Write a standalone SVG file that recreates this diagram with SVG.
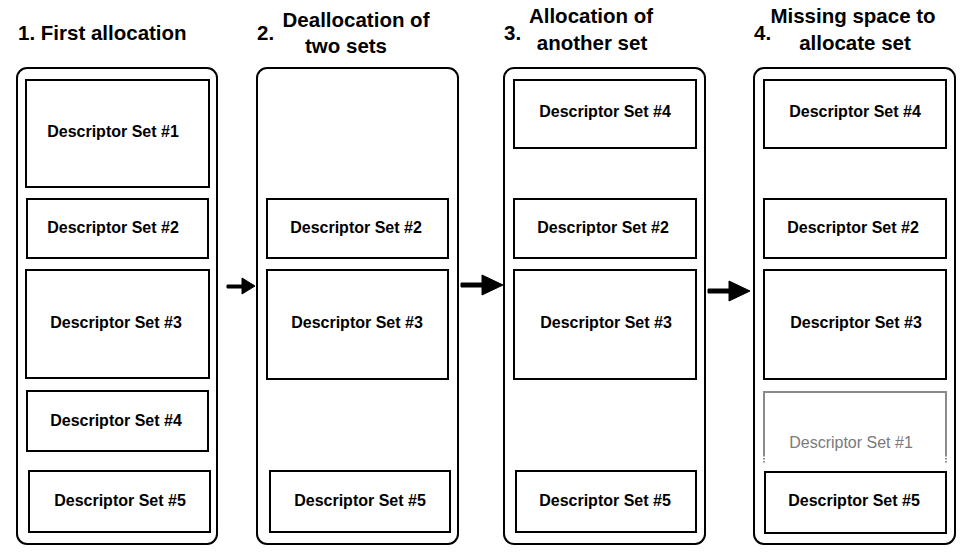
<svg xmlns="http://www.w3.org/2000/svg" width="971" height="555" viewBox="0 0 971 555">
<style>
.col{fill:#fff;stroke:#000;stroke-width:2}
.box{fill:#fff;stroke:#000;stroke-width:2}
.lbl{font-family:"Liberation Sans",Arial,sans-serif;font-weight:bold;font-size:16px;fill:#000;text-anchor:middle}
.ttl{font-family:"Liberation Sans",Arial,sans-serif;font-weight:bold;font-size:20.5px;fill:#000}
.ghost{fill:none;stroke:#8a8a8a;stroke-width:2}
.glbl{font-family:"Liberation Sans",Arial,sans-serif;font-size:16px;fill:#7a7a7a;text-anchor:middle}
.arr{fill:#000;stroke:#000}
</style>
<rect width="971" height="555" fill="#fff"/>
<g id="titles">
<text class="ttl" x="18" y="40">1. First allocation</text>
<text class="ttl" x="257" y="40">2.</text>
<text class="ttl" x="356" y="27" text-anchor="middle">Deallocation of</text>
<text class="ttl" x="346" y="53" text-anchor="middle">two sets</text>
<text class="ttl" x="504" y="40">3.</text>
<text class="ttl" x="591" y="23" text-anchor="middle">Allocation of</text>
<text class="ttl" x="592" y="50" text-anchor="middle">another set</text>
<text class="ttl" x="754" y="40">4.</text>
<text class="ttl" x="853" y="23" text-anchor="middle">Missing space to</text>
<text class="ttl" x="855" y="50" text-anchor="middle">allocate set</text>
</g>
<g id="col1">
<rect class="col" x="17" y="68" width="200" height="476" rx="10"/>
<g id="c1s1"><rect class="box" x="26" y="80" width="183" height="107"/><text class="lbl" x="113" y="137">Descriptor Set #1</text></g>
<g id="c1s2"><rect class="box" x="27" y="199" width="181" height="59"/><text class="lbl" x="113" y="233">Descriptor Set #2</text></g>
<g id="c1s3"><rect class="box" x="26" y="270" width="183" height="108"/><text class="lbl" x="116" y="328">Descriptor Set #3</text></g>
<g id="c1s4"><rect class="box" x="27" y="391" width="181" height="60"/><text class="lbl" x="116" y="426">Descriptor Set #4</text></g>
<g id="c1s5"><rect class="box" x="29" y="471" width="181" height="61"/><text class="lbl" x="120" y="506">Descriptor Set #5</text></g>
</g>
<g id="col2">
<rect class="col" x="257" y="68" width="201" height="476" rx="10"/>
<g id="c2s2"><rect class="box" x="267" y="199" width="181" height="59"/><text class="lbl" x="356" y="233">Descriptor Set #2</text></g>
<g id="c2s3"><rect class="box" x="267" y="270" width="181" height="109"/><text class="lbl" x="357" y="328">Descriptor Set #3</text></g>
<g id="c2s5"><rect class="box" x="270" y="471" width="180" height="61"/><text class="lbl" x="360" y="506">Descriptor Set #5</text></g>
</g>
<g id="col3">
<rect class="col" x="504" y="68" width="201" height="476" rx="10"/>
<g id="c3s4"><rect class="box" x="514" y="80" width="182" height="68"/><text class="lbl" x="605" y="117">Descriptor Set #4</text></g>
<g id="c3s2"><rect class="box" x="514" y="199" width="182" height="59"/><text class="lbl" x="603" y="233">Descriptor Set #2</text></g>
<g id="c3s3"><rect class="box" x="514" y="270" width="182" height="109"/><text class="lbl" x="606" y="328">Descriptor Set #3</text></g>
<g id="c3s5"><rect class="box" x="516" y="471" width="180" height="61"/><text class="lbl" x="605" y="506">Descriptor Set #5</text></g>
</g>
<g id="col4">
<rect class="col" x="754" y="68" width="201" height="476" rx="10"/>
<g id="c4s4"><rect class="box" x="764" y="80" width="182" height="68"/><text class="lbl" x="855" y="117">Descriptor Set #4</text></g>
<g id="c4s2"><rect class="box" x="764" y="199" width="182" height="59"/><text class="lbl" x="853" y="233">Descriptor Set #2</text></g>
<g id="c4s3"><rect class="box" x="764" y="270" width="182" height="109"/><text class="lbl" x="856" y="328">Descriptor Set #3</text></g>
<g id="c4s1ghost">
<path class="ghost" d="M764,455 V392 H946 V455"/>
<path class="ghost" d="M764,455 V464 M946,455 V464" stroke-dasharray="1.5 1.5"/>
<text class="glbl" x="851" y="448">Descriptor Set #1</text>
</g>
<g id="c4s5"><rect class="box" x="765" y="472" width="181" height="61"/><text class="lbl" x="854" y="506">Descriptor Set #5</text></g>
</g>
<g id="connectors">
<path class="arr" d="M227,285 H242 V278 L255,286 L242,294 V288 H227 Z"/>
<path class="arr" d="M461,283 H482 V275 L503,285 L482,295 V287 H461 Z"/>
<path class="arr" d="M708,289 H729 V281 L750,291 L729,301 V293 H708 Z"/>
</g>
</svg>
